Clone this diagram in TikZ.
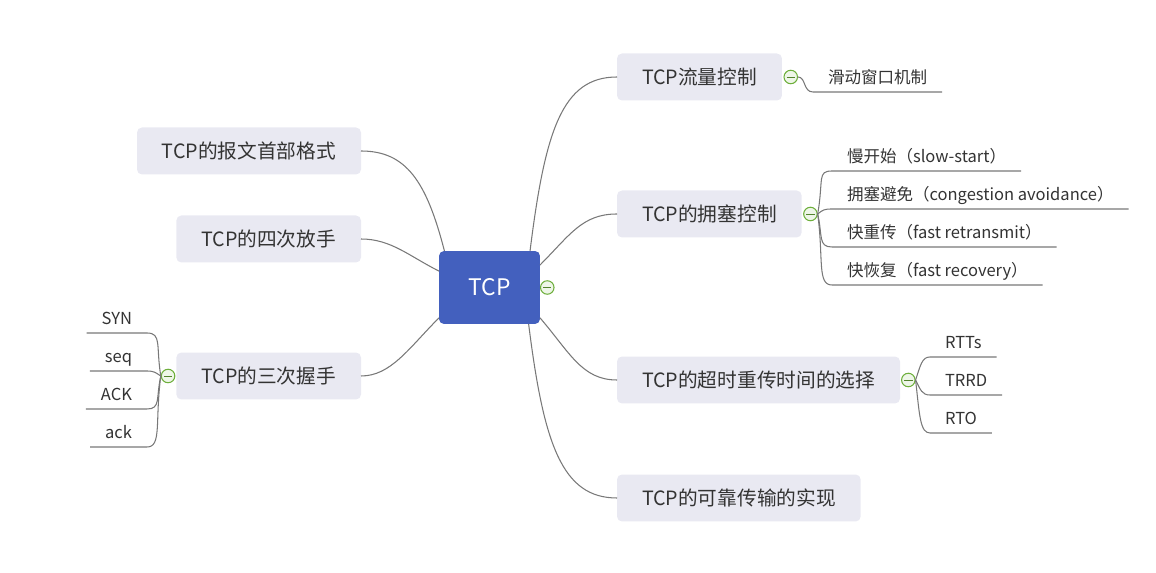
\documentclass[tikz,border=0pt]{standalone}
\usepackage{fontspec}
\setmainfont{Noto Sans CJK SC}
\usetikzlibrary{positioning}
\definecolor{topicblue}{RGB}{67,96,190}
\definecolor{topicgray}{RGB}{233,233,242}
\definecolor{linegray}{RGB}{120,120,120}
\definecolor{inkgray}{RGB}{51,51,51}
\definecolor{foldgreen}{RGB}{110,175,60}
\definecolor{foldfill}{RGB}{238,246,232}
\begin{document}
\begin{tikzpicture}
[x=0.02cm, y=-0.02cm,
 root/.style={rectangle, rounded corners=0.1cm, fill=topicblue, text=white,
   minimum width=2.02cm, minimum height=1.46cm, outer sep=0,
   font=\fontsize{13pt}{15pt}\selectfont},
 topic/.style={rectangle, rounded corners=0.1cm, fill=topicgray, text=inkgray,
   minimum height=0.94cm, inner xsep=0.5cm, outer sep=0,
   font=\fontsize{11.2pt}{13pt}\selectfont},
 leaf/.style={inner xsep=0.3cm, inner ysep=0.08cm, text height=0.25cm,
   text depth=0.08cm, outer sep=0, text=inkgray,
   font=\fontsize{9.4pt}{11pt}\selectfont},
 fold/.style={circle, draw=foldgreen, fill=foldfill, minimum size=0.27cm,
   inner sep=0, line width=0.6pt,
   path picture={\draw[foldgreen!75!black, line width=0.5pt]
     ([xshift=-2.4pt]path picture bounding box.center) --
     ([xshift=2.4pt]path picture bounding box.center);}},
 link/.style={draw=linegray, line width=0.6pt}]
\useasboundingbox (0,0) rectangle (1156,573);

\node [root] (tcp) at (489.5,287.5) {TCP};
\node [fold, right=0cm of tcp] (fold0) {};

\node [topic, anchor=west] (flow) at (617,77) {TCP流量控制};
\node [topic, anchor=west] (cong) at (617,214) {TCP的拥塞控制};
\node [topic, anchor=west] (rto) at (617,380) {TCP的超时重传时间的选择};
\node [topic, anchor=west] (rel) at (617,498) {TCP的可靠传输的实现};
\node [topic, anchor=east] (head) at (361,151) {TCP的报文首部格式};
\node [topic, anchor=east] (wave) at (361,239) {TCP的四次放手};
\node [topic, anchor=east] (shake) at (361,376) {TCP的三次握手};

\draw [link] (tcp.42) .. controls +(15,-120) and +(-55,0) .. (flow.west);
\draw [link] (tcp.24) .. controls +(30,-30) and +(-35,0) .. (cong.west);
\draw [link] (tcp.-31) .. controls +(30,35) and +(-35,0) .. (rto.west);
\draw [link] (tcp.-43) .. controls +(15,120) and +(-55,0) .. (rel.west);
\draw [link] (tcp.141) .. controls +(-18,-70) and +(45,0) .. (head.east);
\draw [link] (tcp.162) .. controls +(-30,-15) and +(30,0) .. (wave.east);
\draw [link] (tcp.211) .. controls +(-30,30) and +(30,0) .. (shake.east);

\node [fold, right=0.03cm of flow] (fold1) {};
\node [fold, right=0.03cm of cong] (fold2) {};
\node [fold, right=0.02cm of rto] (fold3) {};
\node [fold, left=0.02cm of shake] (fold4) {};

\node [leaf, anchor=south west] (win) at (813,92) {滑动窗口机制};
\draw [link] (fold1.east) .. controls +(8,0) and +(-10,0) .. (win.south west) -- (win.south east);

\node [leaf, anchor=south west] (slow) at (832,171) {慢开始（slow-start）};
\node [leaf, anchor=south west] (avoid) at (832,209) {拥塞避免（congestion avoidance）};
\node [leaf, anchor=south west] (fastre) at (832,247) {快重传（fast retransmit）};
\node [leaf, anchor=south west] (fastrec) at (832,285) {快恢复（fast recovery）};
\draw [link] (fold2.east) .. controls +(6,-35) and +(-15,0) .. (slow.south west) -- (slow.south east);
\draw [link] (fold2.east) .. controls +(5,-4) and +(-8,0) .. (avoid.south west) -- (avoid.south east);
\draw [link] (fold2.east) .. controls +(5,22) and +(-14,0) .. (fastre.south west) -- (fastre.south east);
\draw [link] (fold2.east) .. controls +(6,45) and +(-15,0) .. (fastrec.south west) -- (fastrec.south east);

\node [leaf, anchor=south west] (rtts) at (930,357) {RTTs};
\node [leaf, anchor=south west] (trrd) at (930,395) {TRRD};
\node [leaf, anchor=south west] (rtoval) at (930,433) {RTO};
\draw [link] (fold3.east) .. controls +(5,-15) and +(-8,0) .. (rtts.south west) -- (rtts.south east);
\draw [link] (fold3.east) .. controls +(5,10) and +(-8,0) .. (trrd.south west) -- (trrd.south east);
\draw [link] (fold3.east) .. controls +(4,35) and +(-10,0) .. (rtoval.south west) -- (rtoval.south east);

\node [leaf, anchor=south east] (syn) at (147,333) {SYN};
\node [leaf, anchor=south east] (seq) at (147,371) {seq};
\node [leaf, anchor=south east] (ackup) at (147,409) {ACK};
\node [leaf, anchor=south east] (acklow) at (147,447) {ack};
\draw [link] (fold4.west) .. controls +(-5,-30) and +(15,0) .. (syn.south east) -- (syn.south west);
\draw [link] (fold4.west) .. controls +(-5,-3) and +(8,0) .. (seq.south east) -- (seq.south west);
\draw [link] (fold4.west) .. controls +(-5,22) and +(14,0) .. (ackup.south east) -- (ackup.south west);
\draw [link] (fold4.west) .. controls +(-6,45) and +(15,0) .. (acklow.south east) -- (acklow.south west);
\end{tikzpicture}
\end{document}
